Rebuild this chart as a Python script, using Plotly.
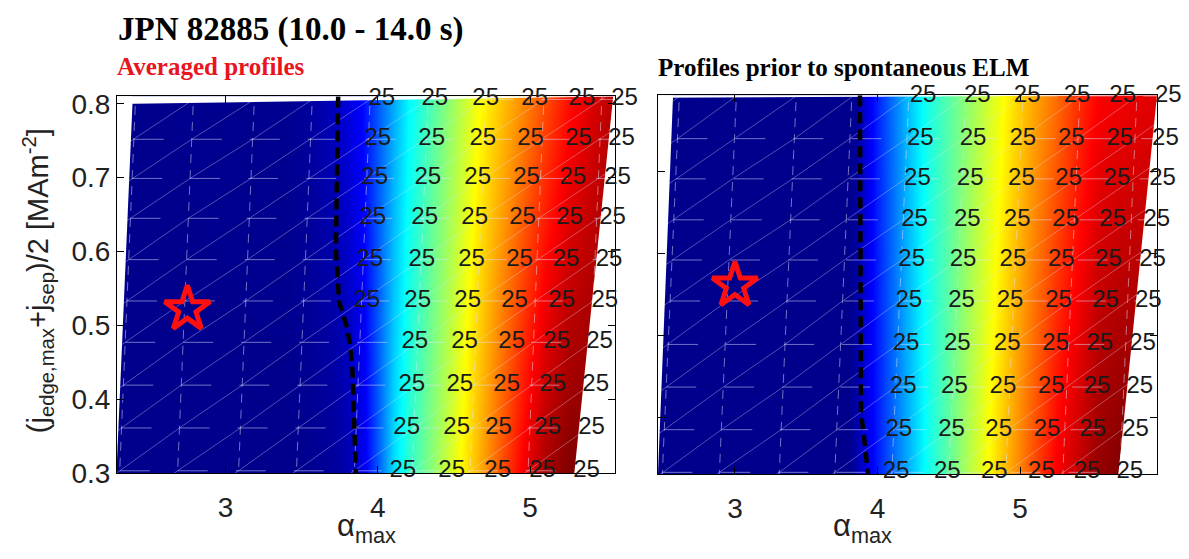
import plotly.graph_objects as go

W, H = 1189, 559

# ---------------- data ----------------
main_title = "JPN 82885 (10.0 - 14.0 s)"
panel_titles = ["Averaged profiles", "Profiles prior to spontaneous ELM"]
x_tickvals = [3, 4, 5]
y_tickvals = [0.3, 0.4, 0.5, 0.6, 0.7, 0.8]
contour_label = "25"

# normalised growth-rate field (jet colour scale), rows = j, cols = alpha
left_alpha_grid = [2.29, 3.40, 3.55, 3.70, 3.80, 3.90, 4.00, 4.10, 4.20, 4.35, 4.50,
                   4.65, 4.80, 4.95, 5.10, 5.25, 5.40, 5.56]
left_j_grid = [0.30, 0.81]
left_field = [
    [0.0, 0.0, 0.005, 0.015, 0.035, 0.10, 0.213, 0.338, 0.418, 0.509, 0.601,
     0.695, 0.792, 0.885, 0.960, 1.0, 1.0, 1.0],
    [0.0, 0.005, 0.02, 0.05, 0.085, 0.133, 0.211, 0.289, 0.367, 0.451, 0.533,
     0.614, 0.677, 0.738, 0.798, 0.859, 0.906, 0.950],
]

right_alpha_grid = [2.46, 3.70, 3.80, 3.85, 3.90, 4.00, 4.10, 4.20, 4.35, 4.50,
                    4.65, 4.80, 4.95, 5.10, 5.25, 5.40, 5.55, 5.70, 5.85, 5.96]
right_j_grid = [0.331, 0.793]
right_field = [
    [0.0, 0.0, 0.0, 0.033, 0.075, 0.152, 0.220, 0.287, 0.386, 0.472,
     0.557, 0.641, 0.723, 0.804, 0.882, 0.931, 0.980, 1.0, 1.0, 1.0],
    [0.0, 0.0, 0.0, 0.011, 0.068, 0.161, 0.232, 0.304, 0.397, 0.461,
     0.526, 0.590, 0.652, 0.710, 0.767, 0.825, 0.876, 0.888, 0.898, 0.905],
]

# axis ranges
left_alpha_range = [2.2885, 5.557]
left_j_range = [0.30, 0.8104]
right_alpha_range = [2.46, 5.961]
right_j_range = [0.331, 0.793]

# scanned domain corners (TL, TR, BR, BL)
left_domain_alpha = [2.39, 5.545, 5.29, 2.285]
left_domain_j = [0.800, 0.810, 0.300, 0.300]
right_domain_alpha = [2.565, 5.961, 5.690, 2.460]
right_domain_j = [0.790, 0.793, 0.331, 0.331]

# stability boundary (dashed)
left_boundary_alpha = [3.74, 3.73, 3.725, 3.746, 3.795, 3.82, 3.834, 3.856]
left_boundary_j = [0.81, 0.697, 0.603, 0.532, 0.499, 0.473, 0.438, 0.30]
right_boundary_alpha = [3.877, 3.877, 3.884, 3.912, 3.933]
right_boundary_j = [0.793, 0.553, 0.406, 0.366, 0.331]

# experimental operating points
left_star_alpha, left_star_j = [2.75], [0.522]
right_star_alpha, right_star_j = [3.00], [0.561]

# contour labels "25"
left_label_j = [0.806, 0.752, 0.699, 0.645, 0.589, 0.533, 0.477, 0.419, 0.361, 0.303]
left_label_alpha = [
    [4.026, 4.374, 4.708, 5.030, 5.340, 5.620],
    [4.000, 4.354, 4.689, 5.003, 5.318, 5.600],
    [3.980, 4.328, 4.656, 4.977, 5.280, 5.574],
    [3.967, 4.308, 4.636, 4.950, 5.259, 5.541],
    [3.948, 4.289, 4.616, 4.931, 5.236, 5.518],
    [3.928, 4.262, 4.590, 4.898, 5.207, 5.490],
    [4.243, 4.570, 4.879, 5.174, 5.456],
    [4.223, 4.538, 4.846, 5.148, 5.430],
    [4.190, 4.518, 4.793, 5.115, 5.403],
    [4.164, 4.485, 4.787, 5.082, 5.370],
]
right_label_j = [0.792, 0.740, 0.691, 0.641, 0.592, 0.542, 0.489, 0.437, 0.385, 0.333]
right_label_alpha = [
    [4.32, 4.70, 5.05, 5.40, 5.72, 6.04],
    [4.30, 4.67, 5.02, 5.36, 5.70, 6.02],
    [4.28, 4.65, 5.01, 5.34, 5.68, 6.00],
    [4.26, 4.63, 4.98, 5.32, 5.65, 5.96],
    [4.24, 4.60, 4.95, 5.29, 5.62, 5.93],
    [4.22, 4.59, 4.93, 5.27, 5.60, 5.90],
    [4.20, 4.56, 4.91, 5.25, 5.56, 5.86],
    [4.18, 4.54, 4.88, 5.22, 5.54, 5.84],
    [4.15, 4.52, 4.85, 5.19, 5.51, 5.81],
    [4.13, 4.49, 4.82, 5.15, 5.47, 5.77],
]

# triangular scan mesh (faint white edges): node columns at top row, rows, lean
left_mesh_alpha = [2.03, 2.41, 2.79, 3.19, 3.57, 3.95, 4.33, 4.71, 5.09, 5.47, 5.85]
left_mesh_j = [0.862, 0.806, 0.752, 0.699, 0.645, 0.589, 0.533, 0.477, 0.419, 0.361, 0.303, 0.248]
left_mesh_lean = 0.206
right_mesh_alpha = [2.21, 2.61, 3.01, 3.43, 3.82, 4.22, 4.62, 5.02, 5.42, 5.82, 6.22]
right_mesh_j = [0.843, 0.792, 0.740, 0.691, 0.641, 0.592, 0.542, 0.489, 0.437, 0.385, 0.333, 0.280]
right_mesh_lean = 0.26

# ---------------- styling / layout ----------------
JET = [[0.0, "rgb(0,0,140)"], [0.125, "rgb(0,0,255)"], [0.375, "rgb(0,255,255)"],
       [0.625, "rgb(255,255,0)"], [0.875, "rgb(255,0,0)"], [1.0, "rgb(128,0,0)"]]
SANS = "Liberation Sans, Arial, sans-serif"
SERIF = "Liberation Serif, Times New Roman, serif"
MESH = "rgba(225,225,255,0.50)"
MESH_D = "rgba(225,225,255,0.35)"

# plot boxes in pixels (left, right, top, bottom)
left_box = (117, 615, 93, 486)
right_box = (658, 1157, 92, 487)
LABEL_EXTRA = 30  # extra room (px) to the right for the contour-label overlay axis


def px(x, y):
    return x / W, 1 - y / H


def overlay_range(box, rng):
    ppu = (box[1] - box[0]) / (rng[1] - rng[0])
    return [rng[0], rng[1] + LABEL_EXTRA / ppu]


fig = go.Figure()


def add_panel(xa, ya, xlab, agrid, jgrid, field, dom_a, dom_j, bnd_a, bnd_j,
              st_a, st_j, lab_j, lab_a, m_a, m_j, lean):
    ax = dict(xaxis=xa, yaxis=ya)
    fig.add_trace(go.Heatmap(x=agrid, y=jgrid, z=field, zsmooth="best",
                             colorscale=JET, zmin=0, zmax=1, showscale=False,
                             hoverinfo="skip", **ax))
    jtop = m_j[1]

    def node(c, r):
        return m_a[c] - lean * (jtop - m_j[r]), m_j[r]

    nc, nr = len(m_a), len(m_j)
    for c in range(nc):
        p0, p1 = node(c, 0), node(c, nr - 1)
        fig.add_trace(go.Scatter(x=[p0[0], p1[0]], y=[p0[1], p1[1]], mode="lines",
                                 line=dict(color=MESH, width=1, dash="9px,7px"),
                                 hoverinfo="skip", showlegend=False, **ax))
    for r in range(1, nr - 1):
        p0 = node(1, r)
        fig.add_trace(go.Scatter(x=[p0[0], 7.0], y=[p0[1], p0[1]], mode="lines",
                                 line=dict(color=MESH, width=1, dash="30px,28px"),
                                 hoverinfo="skip", showlegend=False, **ax))
    for k in range(0, nc + nr):
        xs, ys = [], []
        for c in range(nc):
            r = k - c
            if 0 <= r < nr:
                a, j = node(c, r)
                xs.append(a)
                ys.append(j)
        if len(xs) > 1:
            fig.add_trace(go.Scatter(x=xs, y=ys, mode="lines",
                                     line=dict(color=MESH_D, width=1),
                                     hoverinfo="skip", showlegend=False, **ax))
    # white masks outside the scanned domain
    P = list(zip(dom_a, dom_j))  # TL, TR, BR, BL

    def ext(p, q, t=4.0):
        return ((p[0] + (p[0] - q[0]) * t, p[1] + (p[1] - q[1]) * t),
                (q[0] + (q[0] - p[0]) * t, q[1] + (q[1] - p[1]) * t))

    masks = []
    a, b = ext(P[3], P[0])
    masks.append([a, b, (-20, b[1]), (-20, a[1])])
    a, b = ext(P[0], P[1])
    masks.append([a, b, (b[0], 20), (a[0], 20)])
    a, b = ext(P[1], P[2])
    masks.append([a, b, (30, b[1]), (30, a[1])])
    a, b = ext(P[2], P[3])
    masks.append([a, b, (b[0], -20), (a[0], -20)])
    for m in masks:
        fig.add_trace(go.Scatter(x=[p[0] for p in m] + [m[0][0]],
                                 y=[p[1] for p in m] + [m[0][1]],
                                 mode="lines", fill="toself", fillcolor="white",
                                 line=dict(width=0, color="white"),
                                 hoverinfo="skip", showlegend=False, **ax))
    fig.add_trace(go.Scatter(x=bnd_a, y=bnd_j, mode="lines",
                             line=dict(color="black", width=4.5, dash="11px,6px"),
                             hoverinfo="skip", showlegend=False, **ax))
    fig.add_trace(go.Scatter(x=st_a, y=st_j, mode="markers",
                             marker=dict(symbol="star-open", size=34, color="#ff1010",
                                         line=dict(color="#ff1010", width=5)),
                             hoverinfo="skip", showlegend=False, **ax))
    lx, ly = [], []
    for j, row in zip(lab_j, lab_a):
        for a_ in row:
            lx.append(a_)
            ly.append(j)
    fig.add_trace(go.Scatter(x=lx, y=ly, mode="text", text=[contour_label] * len(lx),
                             textfont=dict(family=SANS, size=24, color="#1a1a1a"),
                             textposition="middle center", cliponaxis=False,
                             hoverinfo="skip", showlegend=False,
                             xaxis=xlab, yaxis=ya))


add_panel("x", "y", "x3", left_alpha_grid, left_j_grid, left_field,
          left_domain_alpha, left_domain_j, left_boundary_alpha, left_boundary_j,
          left_star_alpha, left_star_j, left_label_j, left_label_alpha,
          left_mesh_alpha, left_mesh_j, left_mesh_lean)
add_panel("x2", "y2", "x4", right_alpha_grid, right_j_grid, right_field,
          right_domain_alpha, right_domain_j, right_boundary_alpha, right_boundary_j,
          right_star_alpha, right_star_j, right_label_j, right_label_alpha,
          right_mesh_alpha, right_mesh_j, right_mesh_lean)

axis_common = dict(showline=True, linecolor="black", linewidth=1, mirror="ticks",
                   ticks="inside", ticklen=7, tickcolor="black", showgrid=False,
                   zeroline=False, tickfont=dict(family=SANS, size=28, color="#222"))
hidden = dict(visible=False, showgrid=False, zeroline=False)

fig.update_layout(
    width=W, height=H, margin=dict(l=0, r=0, t=0, b=0),
    paper_bgcolor="white", plot_bgcolor="rgba(0,0,0,0)", showlegend=False,
    xaxis=dict(domain=[left_box[0] / W, left_box[1] / W], range=left_alpha_range,
               tickvals=x_tickvals, ticklabelstandoff=9, anchor="y", **axis_common),
    yaxis=dict(domain=[1 - left_box[3] / H, 1 - left_box[2] / H], range=left_j_range,
               tickvals=y_tickvals, tickformat=".1f", anchor="x", **axis_common),
    xaxis2=dict(domain=[right_box[0] / W, right_box[1] / W], range=right_alpha_range,
                tickvals=x_tickvals, ticklabelstandoff=9, anchor="y2", **axis_common),
    yaxis2=dict(domain=[1 - right_box[3] / H, 1 - right_box[2] / H], range=right_j_range,
                tickvals=y_tickvals, showticklabels=False, anchor="x2", **axis_common),
    xaxis3=dict(domain=[left_box[0] / W, (left_box[1] + LABEL_EXTRA) / W],
                range=overlay_range(left_box, left_alpha_range), anchor="y", **hidden),
    xaxis4=dict(domain=[right_box[0] / W, (right_box[1] + LABEL_EXTRA) / W],
                range=overlay_range(right_box, right_alpha_range), anchor="y2", **hidden),
)

ann = []
x0, y0 = px(116, 23)
ann.append(dict(text="<b>%s</b>" % main_title, x=x0, y=y0, xanchor="left", yanchor="middle",
                font=dict(family=SERIF, size=33, color="black")))
x0, y0 = px(115, 62)
ann.append(dict(text="<b>%s</b>" % panel_titles[0], x=x0, y=y0, xanchor="left", yanchor="middle",
                font=dict(family=SERIF, size=25, color="#e8141e")))
x0, y0 = px(656, 63)
ann.append(dict(text="<b>%s</b>" % panel_titles[1], x=x0, y=y0, xanchor="left", yanchor="middle",
                font=dict(family=SERIF, size=25, color="black")))
for cx in (366, 862):
    x0, y0 = px(cx, 520)
    ann.append(dict(text="\u03b1<sub>max</sub>", x=x0, y=y0, xanchor="center", yanchor="top",
                    font=dict(family=SANS, size=31, color="#222")))
x0, y0 = px(38, 286)
ann.append(dict(text="(j<sub>edge,max</sub>+j<sub>sep</sub>)/2 [MAm<sup>-2</sup>]",
                x=x0, y=y0, xanchor="center", yanchor="middle", textangle=-90,
                font=dict(family=SANS, size=29, color="#222")))
for a in ann:
    a.update(xref="paper", yref="paper", showarrow=False)
fig.update_layout(annotations=ann)

fig.write_html("out.html")
